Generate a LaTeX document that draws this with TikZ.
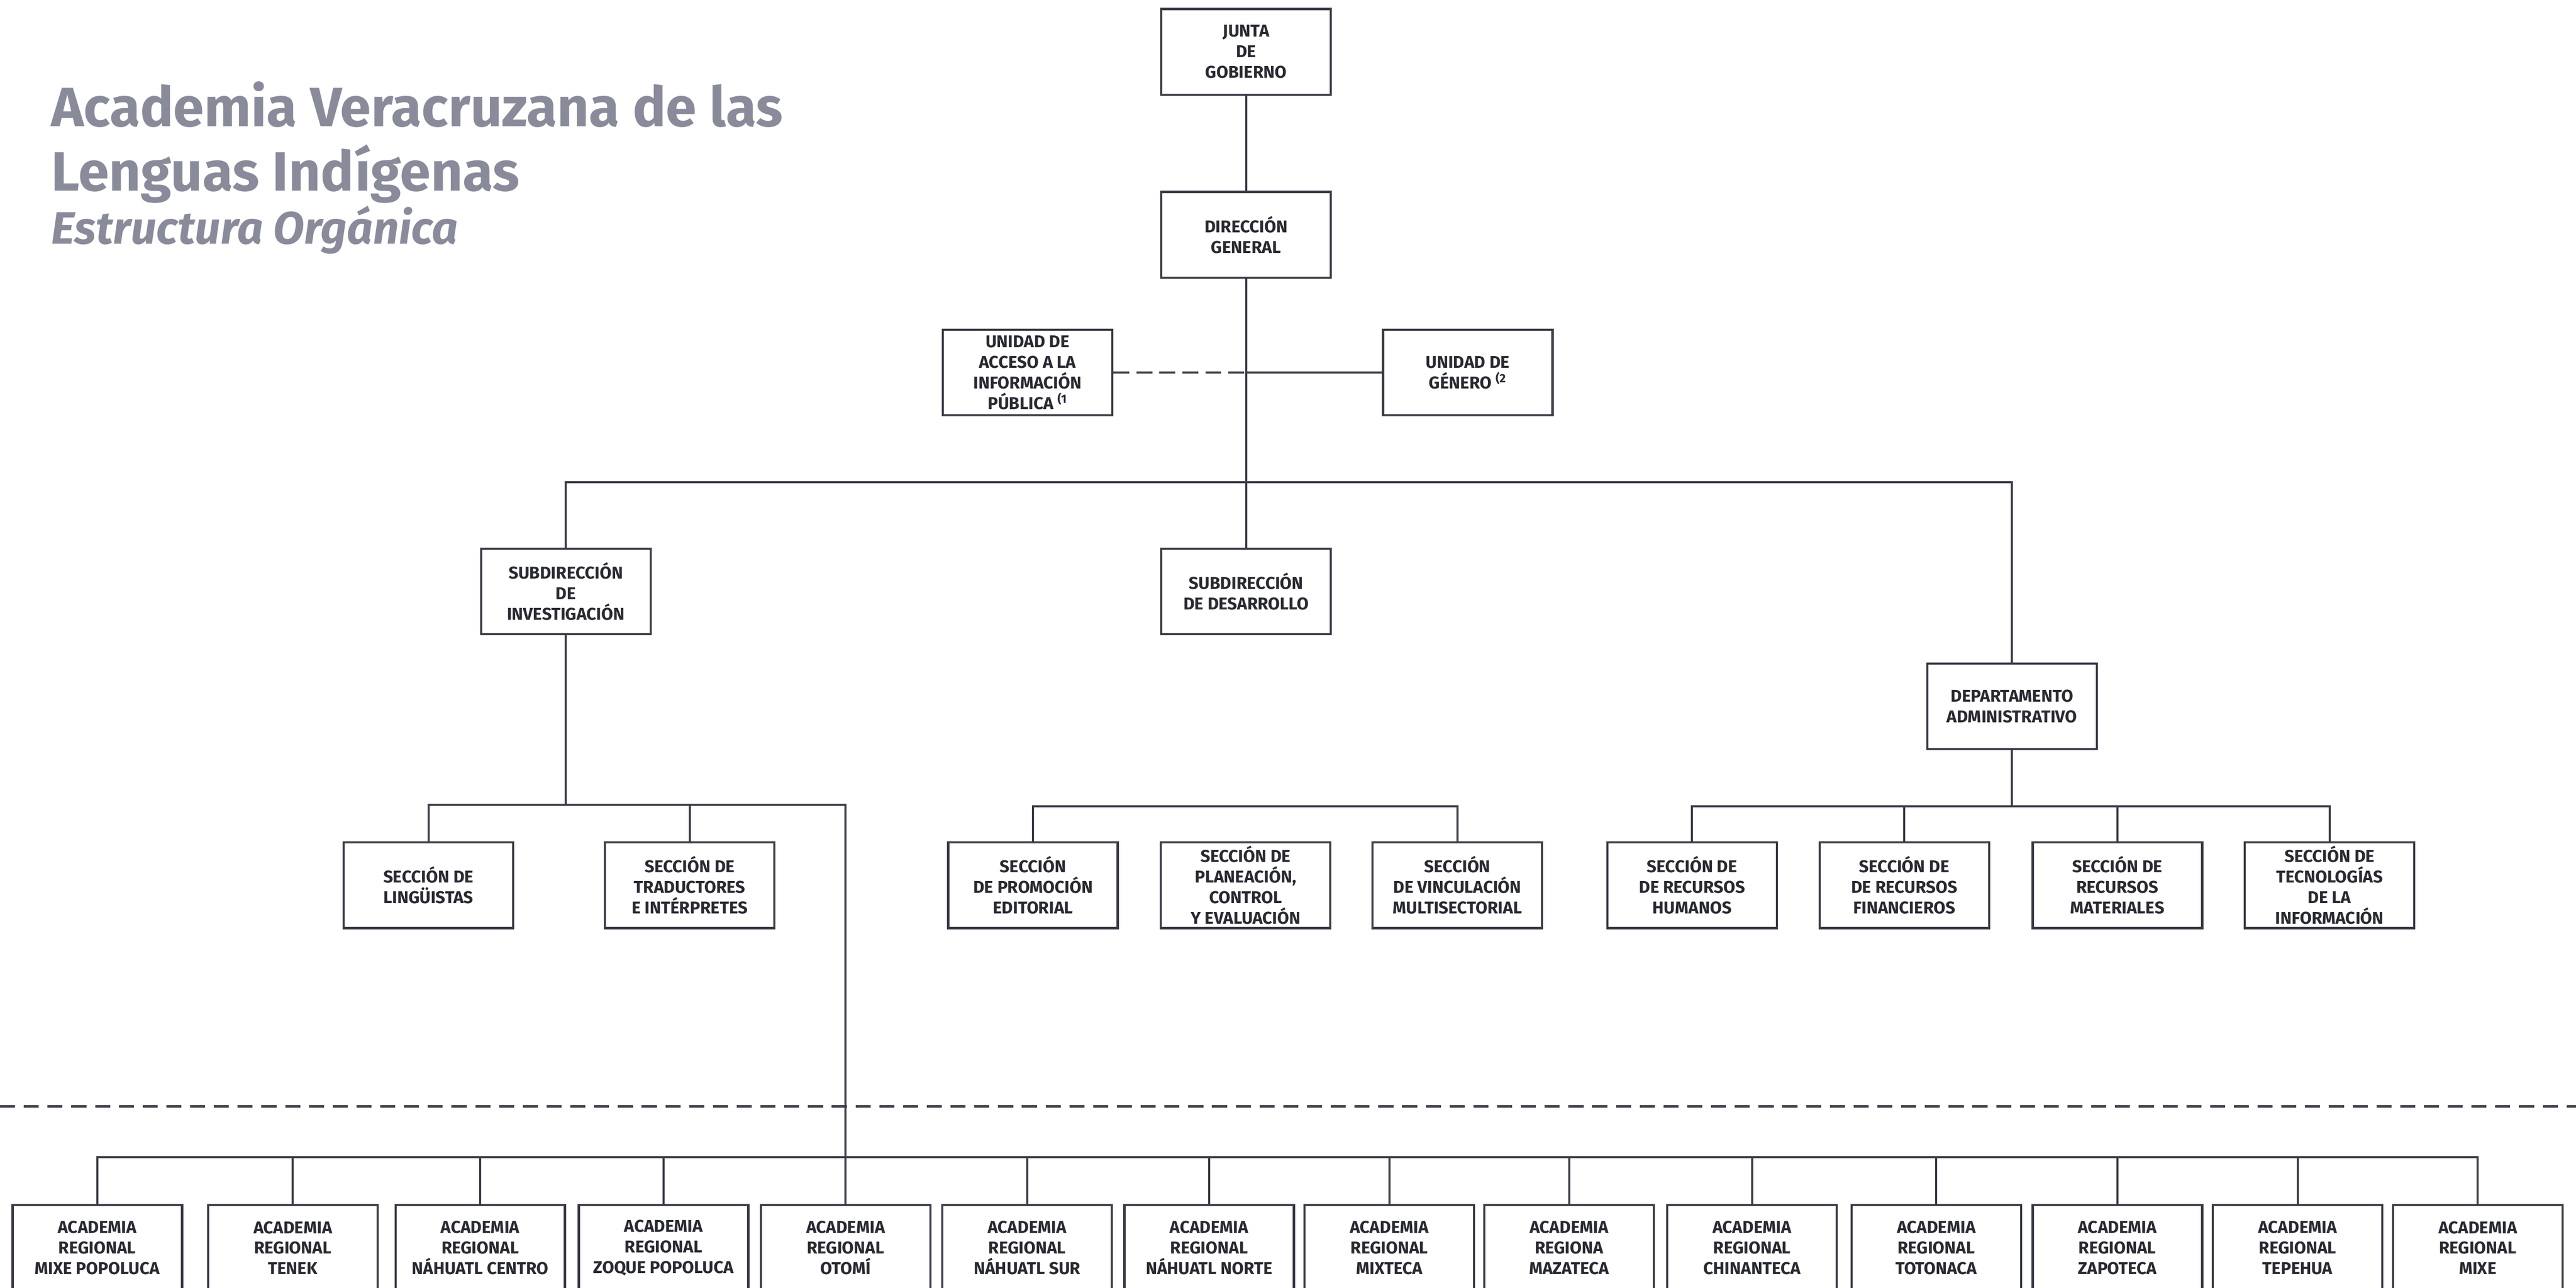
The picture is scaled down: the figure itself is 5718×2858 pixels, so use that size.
\documentclass[tikz,border=0pt]{standalone}
\usepackage{fontspec}
\setmainfont{Fira Sans}
\definecolor{gristitulo}{RGB}{138,139,154}
\definecolor{grislinea}{RGB}{58,60,70}
\begin{document}
\begin{tikzpicture}[x=0.01cm,y=-0.01cm,
	caja/.style={draw=grislinea,line width=1.4pt,minimum width=3.76cm,minimum height=1.9cm,align=center,inner sep=1pt,text=grislinea!70!black,font=\fontsize{10.8}{13}\selectfont\bfseries},
	titulo/.style={anchor=base west,inner sep=0pt,text=gristitulo,font=\fontsize{35}{42}\selectfont\bfseries},
	linea/.style={draw=grislinea,line width=1.3pt},
	corte/.style={draw=grislinea,line width=1.5pt,dash pattern=on 9.5pt off 5.5pt}]
	\useasboundingbox (0,0) rectangle (5718,2858);
	\clip (0,0) rectangle (5718,2858);
	\node [titulo] (tit1) at (113,281) {Academia Veracruzana de las};
	\node [titulo] (tit2) at (113,424) {Lenguas Indígenas};
	\node [titulo,font=\fontsize{28.7}{34}\selectfont\bfseries\itshape] (subtit) at (113,542) {Estructura Orgánica};
	\node [caja] (junta) at (2766,115) {JUNTA\\DE\\GOBIERNO};
	\node [caja] (direccion) at (2766,521) {DIRECCIÓN\\GENERAL};
	\node [caja] (acceso) at (2281,827) {UNIDAD DE\\ACCESO A LA\\INFORMACIÓN\\PÚBLICA \textsuperscript{(1}};
	\node [caja] (genero) at (3258,827) {UNIDAD DE\\GÉNERO \textsuperscript{(2}};
	\node [caja] (subinv) at (1256,1313) {SUBDIRECCIÓN\\DE\\INVESTIGACIÓN};
	\node [caja] (subdes) at (2766,1313) {SUBDIRECCIÓN\\DE DESARROLLO};
	\node [caja] (depadm) at (4466,1568) {DEPARTAMENTO\\ADMINISTRATIVO};
	\node [caja] (lingu) at (951,1965) {SECCIÓN DE\\LINGÜISTAS};
	\node [caja] (traduc) at (1531,1965) {SECCIÓN DE\\TRADUCTORES\\E INTÉRPRETES};
	\node [caja] (promo) at (2293,1965) {SECCIÓN\\DE PROMOCIÓN\\EDITORIAL};
	\node [caja] (plane) at (2765,1965) {SECCIÓN DE\\PLANEACIÓN,\\CONTROL\\Y EVALUACIÓN};
	\node [caja] (vincu) at (3235,1965) {SECCIÓN\\DE VINCULACIÓN\\MULTISECTORIAL};
	\node [caja] (rh) at (3756,1965) {SECCIÓN DE\\DE RECURSOS\\HUMANOS};
	\node [caja] (rf) at (4227,1965) {SECCIÓN DE\\DE RECURSOS\\FINANCIEROS};
	\node [caja] (rm) at (4700,1965) {SECCIÓN DE\\RECURSOS\\MATERIALES};
	\node [caja] (ti) at (5171,1965) {SECCIÓN DE\\TECNOLOGÍAS\\DE LA\\INFORMACIÓN};
	\foreach \x/\txt [count=\n] in {216/{ACADEMIA\\REGIONAL\\MIXE POPOLUCA},650/{ACADEMIA\\REGIONAL\\TENEK},1066/{ACADEMIA\\REGIONAL\\NÁHUATL CENTRO},1473/{ACADEMIA\\REGIONAL\\ZOQUE POPOLUCA},1877/{ACADEMIA\\REGIONAL\\OTOMÍ},2280/{ACADEMIA\\REGIONAL\\NÁHUATL SUR},2684/{ACADEMIA\\REGIONAL\\NÁHUATL NORTE},3084/{ACADEMIA\\REGIONAL\\MIXTECA},3483/{ACADEMIA\\REGIONA\\MAZATECA},3889/{ACADEMIA\\REGIONAL\\CHINANTECA},4298/{ACADEMIA\\REGIONAL\\TOTONACA},4700/{ACADEMIA\\REGIONAL\\ZAPOTECA},5100/{ACADEMIA\\REGIONAL\\TEPEHUA},5500/{ACADEMIA\\REGIONAL\\MIXE}}
		\node [caja] (ar\n) at (\x,2770) {\txt};
	\coordinate (busdir) at (2766,1070);
	\coordinate (businv) at (1256,1786);
	\coordinate (busdes) at (2766,1790);
	\coordinate (busadm) at (4466,1790);
	\coordinate (busreg) at (1877,2568);
	\coordinate (izq) at (0,2456);
	\coordinate (der) at (5718,2456);
	\draw [linea] (junta) -- (direccion);
	\draw [linea] (direccion) -- (subdes);
	\draw [linea,dashed,dash pattern=on 10pt off 4.5pt] (acceso) -- (direccion |- acceso);
	\draw [linea] (genero) -- (direccion |- genero);
	\draw [linea] (subinv) |- (busdir) -| (depadm);
	\draw [linea] (subinv) -- (businv);
	\draw [linea] (lingu) |- (businv) -| (ar5);
	\draw [linea] (traduc) -- (traduc |- businv);
	\draw [linea] (promo) |- (busdes) -| (vincu);
	\draw [linea] (depadm) -- (busadm);
	\draw [linea] (rh) |- (busadm) -| (ti);
	\draw [linea] (rf) -- (rf |- busadm);
	\draw [linea] (rm) -- (rm |- busadm);
	\draw [corte] (izq) -- (der);
	\draw [linea] (ar1) |- (busreg) -| (ar14);
	\foreach \n in {2,...,13}
		\draw [linea] (ar\n) -- (ar\n |- busreg);
\end{tikzpicture}
\end{document}
